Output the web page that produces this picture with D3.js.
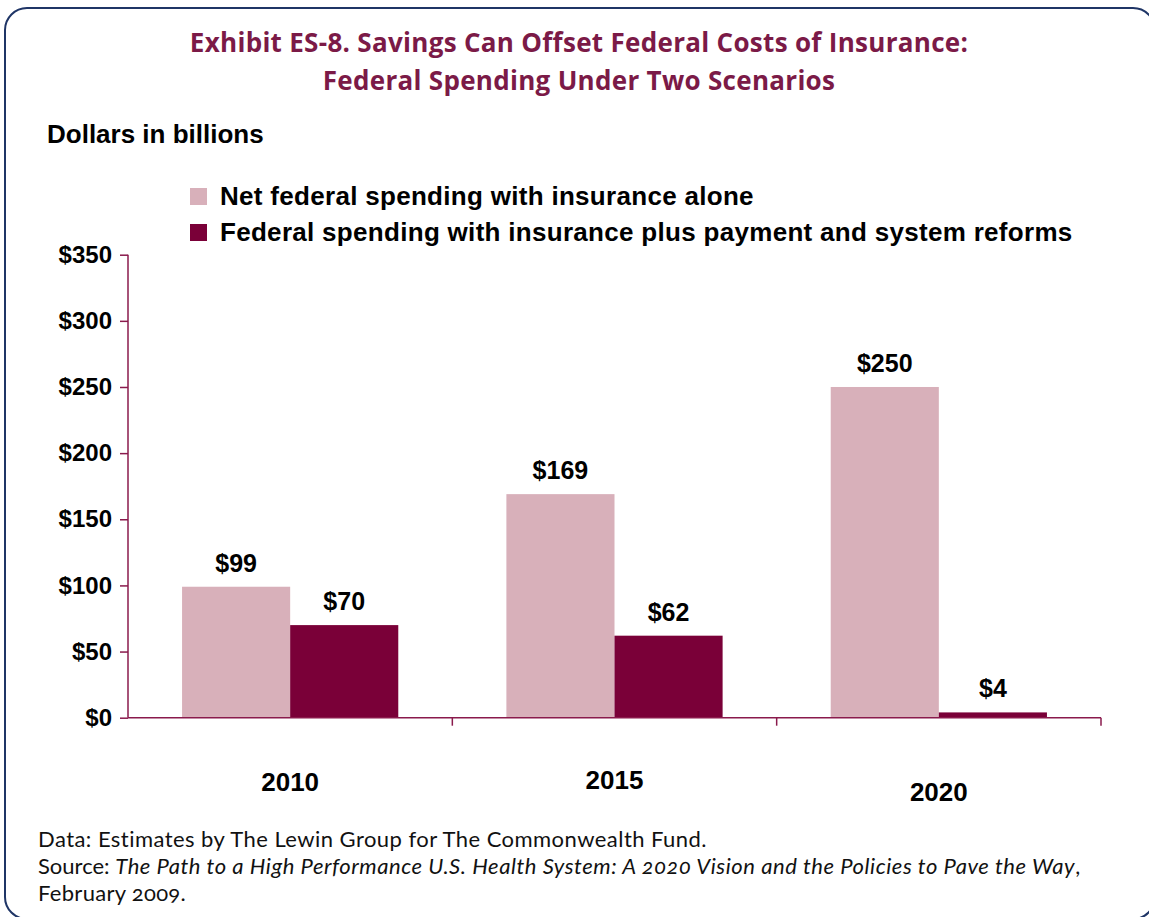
<!DOCTYPE html>
<html>
<head>
<meta charset="utf-8">
<script src="https://cdn.jsdelivr.net/npm/d3@7"></script>
<style>
  html, body { margin: 0; padding: 0; background: #fff; }
  svg { display: block; }
  .chart-text { font-family: "Liberation Sans", Arial, sans-serif; font-weight: bold; fill: #000; }
  .title { font-family: "Open Sans", Lato, sans-serif; font-weight: 700; fill: #7b1a47; }
  .foot { font-family: Lato, "Open Sans", sans-serif; fill: #111; font-feature-settings: "onum" 1; }
</style>
</head>
<body>
<svg id="chart" width="1149" height="917"></svg>
<script>
// ---- data ----
const categories = ["2010", "2015", "2020"];
const seriesNames = [
  "Net federal spending with insurance alone",
  "Federal spending with insurance plus payment and system reforms"
];
const insuranceAlone = [99, 169, 250];
const withReforms = [70, 62, 4];
const yTicks = [0, 50, 100, 150, 200, 250, 300, 350];
const titleLines = [
  "Exhibit ES-8. Savings Can Offset Federal Costs of Insurance:",
  "Federal Spending Under Two Scenarios"
];
const yAxisTitle = "Dollars in billions";
const footLine1 = "Data: Estimates by The Lewin Group for The Commonwealth Fund.";
const footSourceLabel = "Source: ";
const footSourceTitle = "The Path to a High Performance U.S. Health System: A 2020 Vision and the Policies to Pave the Way";
const footLine3 = "February 2009.";

// ---- style / layout ----
const colors = ["#d8b0ba", "#7a0038"];
const axisColor = "#8a1a4c";
const categoryLabelDy = [0, -2, 10]; // the original staggers category labels slightly

const svg = d3.select("#chart");

// frame
svg.append("rect")
  .attr("x", 5).attr("y", 8)
  .attr("width", 1150).attr("height", 911)
  .attr("rx", 22).attr("ry", 22)
  .attr("fill", "none")
  .attr("stroke", "#1f3566")
  .attr("stroke-width", 2);

// title
svg.append("g").selectAll("text")
  .data(titleLines)
  .join("text")
  .attr("class", "title")
  .attr("x", 579)
  .attr("y", (d, i) => 52 + i * 38)
  .attr("text-anchor", "middle")
  .attr("font-size", 26)
  .attr("letter-spacing", 0.3)
  .text(d => d);

// y axis title
svg.append("text")
  .attr("class", "chart-text")
  .attr("x", 47).attr("y", 143)
  .attr("font-size", 26)
  .text(yAxisTitle);

// legend
const legend = svg.append("g").selectAll("g")
  .data(seriesNames)
  .join("g")
  .attr("transform", (d, i) => `translate(190, ${188 + i * 36})`);
legend.append("rect")
  .attr("width", 17).attr("height", 17)
  .attr("fill", (d, i) => colors[i]);
legend.append("text")
  .attr("class", "chart-text")
  .attr("x", 30).attr("y", 17)
  .attr("font-size", 26)
  .attr("letter-spacing", 0.3)
  .text(d => d);

// scales
const plot = { left: 128, right: 1101, top: 254.7, bottom: 717.7 };
const y = d3.scaleLinear().domain([0, 350]).range([plot.bottom, plot.top]);
const x = d3.scaleBand().domain(categories)
  .range([plot.left, plot.right])
  .paddingInner(1 / 3).paddingOuter(1 / 6);
const xs = d3.scaleBand().domain([0, 1]).range([0, x.bandwidth()]);

const rows = categories.map((c, i) => ({ cat: c, i, values: [insuranceAlone[i], withReforms[i]] }));

// bars
const groups = svg.append("g").selectAll("g")
  .data(rows)
  .join("g")
  .attr("transform", d => `translate(${x(d.cat)},0)`);

groups.selectAll("rect")
  .data(d => d.values.map((v, k) => ({ v, k })))
  .join("rect")
  .attr("x", d => xs(d.k))
  .attr("width", xs.bandwidth())
  .attr("y", d => y(d.v))
  .attr("height", d => y(0) - y(d.v))
  .attr("fill", d => colors[d.k]);

groups.selectAll("text.val")
  .data(d => d.values.map((v, k) => ({ v, k })))
  .join("text")
  .attr("class", "chart-text val")
  .attr("x", d => xs(d.k) + xs.bandwidth() / 2)
  .attr("y", d => y(d.v) - 15)
  .attr("text-anchor", "middle")
  .attr("font-size", 25)
  .text(d => "$" + d.v);

// y axis
const yAxis = d3.axisLeft(y).tickValues(yTicks).tickSize(8).tickPadding(8)
  .tickFormat(d => "$" + d);
const gy = svg.append("g")
  .attr("transform", `translate(${plot.left},0)`)
  .call(yAxis);
gy.select(".domain").attr("stroke", axisColor).attr("stroke-width", 1.5)
  .attr("d", `M0,${plot.top}V${plot.bottom}`);
gy.selectAll(".tick line").attr("stroke", axisColor).attr("stroke-width", 1.5);
gy.selectAll(".tick text")
  .attr("class", "chart-text")
  .attr("font-size", 24)
  .attr("font-family", null);

// x axis
const gx = svg.append("g").attr("transform", `translate(0,${plot.bottom})`);
gx.append("line")
  .attr("x1", plot.left).attr("x2", plot.right)
  .attr("stroke", axisColor).attr("stroke-width", 1.5);
const step = x.step();
gx.selectAll("line.sep")
  .data(categories)
  .join("line")
  .attr("class", "sep")
  .attr("x1", d => x(d) + x.bandwidth() + step * x.paddingInner() / 2)
  .attr("x2", d => x(d) + x.bandwidth() + step * x.paddingInner() / 2)
  .attr("y1", 0).attr("y2", 8)
  .attr("stroke", axisColor).attr("stroke-width", 1.5);
gx.selectAll("text")
  .data(categories)
  .join("text")
  .attr("class", "chart-text")
  .attr("x", d => x(d) + x.bandwidth() / 2)
  .attr("y", (d, i) => 73 + categoryLabelDy[i])
  .attr("text-anchor", "middle")
  .attr("font-size", 26)
  .text(d => d);

// footer
const foot = svg.append("g").attr("class", "foot").attr("font-size", 22);
foot.append("text").attr("x", 38).attr("y", 847).attr("letter-spacing", 0.45).text(footLine1);
const src = foot.append("text").attr("x", 38).attr("y", 874);
src.append("tspan").text(footSourceLabel);
src.append("tspan").attr("font-style", "italic").attr("letter-spacing", 0.55).text(footSourceTitle);
src.append("tspan").text(",");
foot.append("text").attr("x", 38).attr("y", 901).attr("letter-spacing", 0.3).text(footLine3);
</script>
</body>
</html>
